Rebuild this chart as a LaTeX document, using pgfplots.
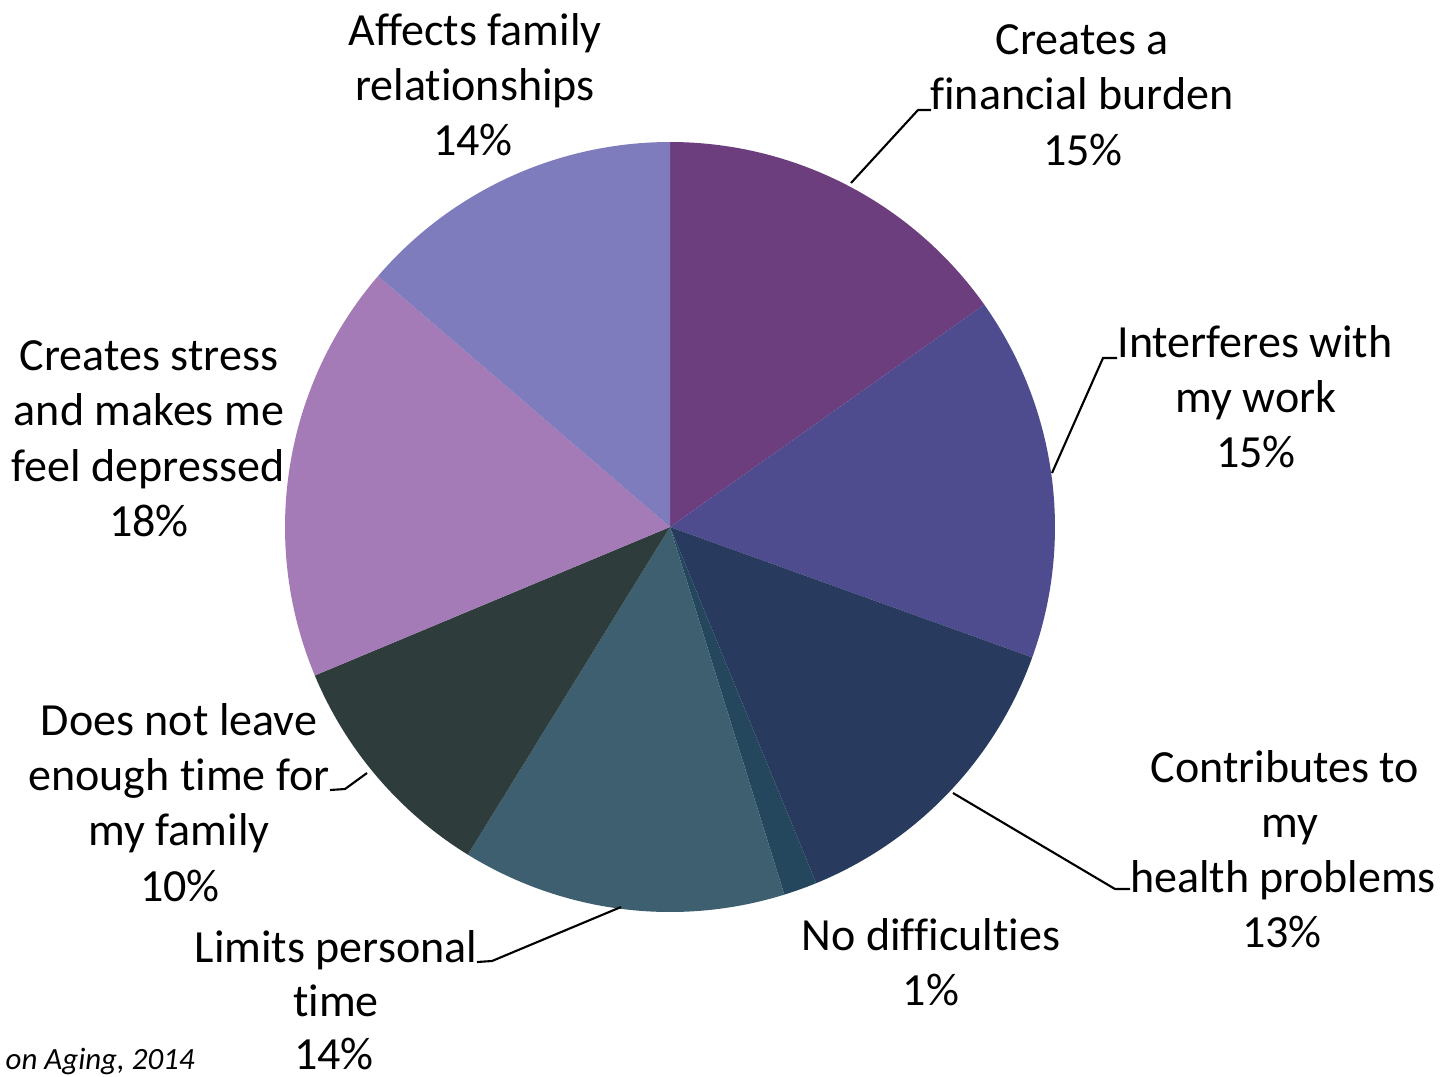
\documentclass[border=0pt]{standalone}
\usepackage{pgfplots}
\pgfplotsset{compat=1.18}
\usepackage{pgfplotstable}
\usepackage{fontspec}
\setmainfont{Carlito}[Ligatures=NoCommon]
\definecolor{cA}{HTML}{6C3E7E}
\definecolor{cB}{HTML}{4E4B8F}
\definecolor{cC}{HTML}{283A5E}
\definecolor{cD}{HTML}{24475E}
\definecolor{cE}{HTML}{3D5F70}
\definecolor{cF}{HTML}{2F3C3C}
\definecolor{cG}{HTML}{A47BB6}
\definecolor{cH}{HTML}{7F7CBD}
% slice shares (percent), clockwise from 12 o'clock
\pgfplotstableread{
pct  col
15.2 cA
15.3 cB
13.3 cC
1.4  cD
13.6 cE
9.9  cF
17.6 cG
13.7 cH
}\pietable
\newcommand\lbl{\fontsize{13.1}{15.7}\selectfont}
\begin{document}
\begin{tikzpicture}
\begin{axis}[
  width=14.43cm, height=10.76cm, scale only axis,
  xmin=0, xmax=1443, ymin=0, ymax=1076, y dir=reverse,
  hide axis, clip=false]
\path (axis cs:0,0) rectangle (axis cs:1443,1076);
\def\cum{0}
\pgfplotsforeachungrouped \i in {0,...,7}{%
  \pgfplotstablegetelem{\i}{pct}\of\pietable \let\p\pgfplotsretval
  \pgfplotstablegetelem{\i}{col}\of\pietable \let\c\pgfplotsretval
  \pgfmathsetmacro\a{90-3.6*\cum}%
  \pgfmathsetmacro\b{90-3.6*(\cum+\p)}%
  \edef\cmd{\noexpand\fill[\c] (axis cs:670,527) -- ++(\a:3.85cm) arc[start angle=\a, end angle=\b, radius=3.85cm] -- cycle;}%
  \cmd
  \pgfmathsetmacro\cum{\cum+\p}%
  \global\let\cum\cum
}
% leader lines
\addplot[black, line width=0.6pt, no marks] coordinates {(851,183) (918,110) (931,110)};
\addplot[black, line width=0.6pt, no marks] coordinates {(1052,473) (1103,358) (1117,358)};
\addplot[black, line width=0.6pt, no marks] coordinates {(953,793) (1115,889) (1130,889)};
\addplot[black, line width=0.6pt, no marks] coordinates {(621,907) (492,961) (477,962)};
\addplot[black, line width=0.6pt, no marks] coordinates {(367,773) (345,789) (330,790)};
% labels
\begin{scope}[every node/.style={anchor=base, font=\lbl, inner sep=0pt}]
\node at (axis cs:475,45) {Affects family};
\node at (axis cs:475,100) {relationships};
\node at (axis cs:473,155) {14\%};
\node at (axis cs:1082,54) {Creates a};
\node at (axis cs:1082,109) {financial burden};
\node at (axis cs:1083,165) {15\%};
\node at (axis cs:1255,357) {Interferes with};
\node at (axis cs:1256,412) {my work};
\node at (axis cs:1256,467) {15\%};
\node at (axis cs:149,370) {Creates stress};
\node at (axis cs:149,425) {and makes me};
\node at (axis cs:148,481) {feel depressed};
\node at (axis cs:149,536) {18\%};
\node at (axis cs:179,735) {Does not leave};
\node at (axis cs:179,790) {enough time for};
\node at (axis cs:179,845) {my family};
\node at (axis cs:180,901) {10\%};
\node at (axis cs:336,962) {Limits personal};
\node at (axis cs:336,1016) {time};
\node at (axis cs:334,1069) {14\%};
\node at (axis cs:931,950) {No difficulties};
\node at (axis cs:931,1005) {1\%};
\node at (axis cs:1285,782) {Contributes to};
\node at (axis cs:1290,837) {my};
\node at (axis cs:1283,892) {health problems};
\node at (axis cs:1282,947) {13\%};
\node[anchor=base west, font=\fontsize{8.8}{10.5}\selectfont\itshape] at (axis cs:5,1069) {on Aging, 2014};
\end{scope}
\end{axis}
\end{tikzpicture}
\end{document}
